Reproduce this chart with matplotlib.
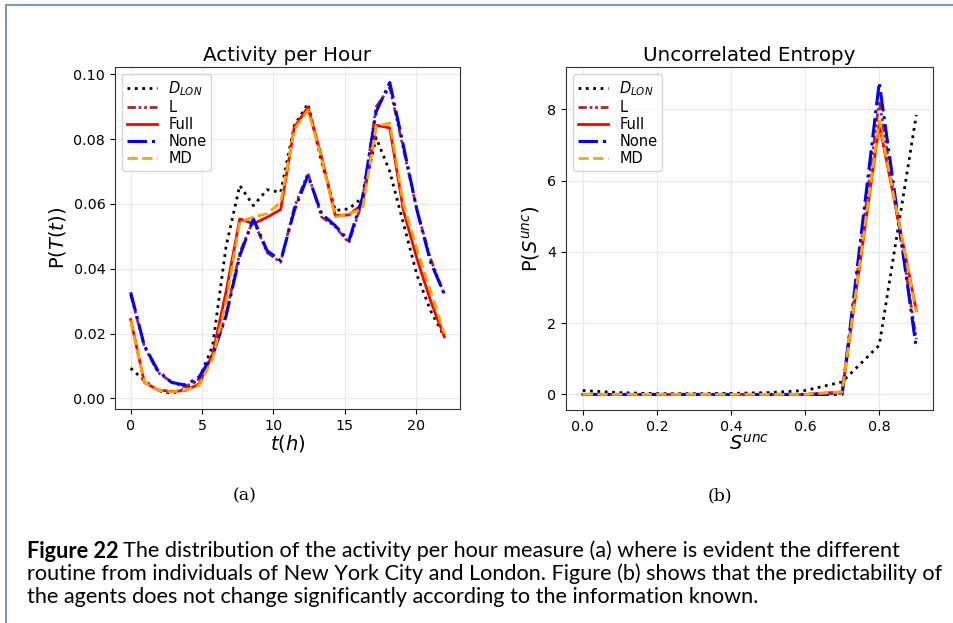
import numpy as np
import matplotlib
matplotlib.use("Agg")
import matplotlib.pyplot as plt
from matplotlib.lines import Line2D
from matplotlib.textpath import TextPath
from matplotlib.font_manager import FontProperties

plt.rcParams["font.family"] = ["DejaVu Sans"]

# ---------------- data ----------------
hours = np.linspace(0, 22, 24)

act_dlon = [0.0093, 0.0055, 0.0024, 0.0015, 0.0029, 0.0060, 0.0160, 0.0470,
            0.0657, 0.0595, 0.0644, 0.0636, 0.0842, 0.0910, 0.0730, 0.0580,
            0.0585, 0.0620, 0.0805, 0.0700, 0.0540, 0.0380, 0.0270, 0.0190]
act_l    = [0.0320, 0.0160, 0.0080, 0.0050, 0.0035, 0.0060, 0.0130, 0.0260,
            0.0450, 0.0550, 0.0450, 0.0420, 0.0590, 0.0695, 0.0560, 0.0530,
            0.0480, 0.0610, 0.0900, 0.0960, 0.0770, 0.0580, 0.0430, 0.0320]
act_full = [0.0243, 0.0049, 0.0026, 0.0021, 0.0024, 0.0044, 0.0135, 0.0330,
            0.0554, 0.0539, 0.0559, 0.0583, 0.0837, 0.0899, 0.0745, 0.0565,
            0.0566, 0.0600, 0.0843, 0.0835, 0.0580, 0.0430, 0.0300, 0.0190]
act_none = [0.0327, 0.0163, 0.0085, 0.0049, 0.0041, 0.0065, 0.0132, 0.0255,
            0.0440, 0.0554, 0.0456, 0.0425, 0.0580, 0.0688, 0.0570, 0.0533,
            0.0487, 0.0620, 0.0885, 0.0975, 0.0780, 0.0580, 0.0420, 0.0322]
act_md   = [0.0240, 0.0050, 0.0025, 0.0020, 0.0025, 0.0040, 0.0120, 0.0300,
            0.0545, 0.0560, 0.0570, 0.0605, 0.0830, 0.0890, 0.0740, 0.0560,
            0.0570, 0.0585, 0.0840, 0.0850, 0.0600, 0.0460, 0.0330, 0.0200]

s_unc = [0.0, 0.1, 0.2, 0.3, 0.4, 0.5, 0.6, 0.7, 0.8, 0.9]
ent_dlon = [0.11, 0.05, 0.02, 0.02, 0.03, 0.05, 0.11, 0.35, 1.38, 7.84]
ent_l    = [0.0, 0.0, 0.0, 0.0, 0.0, 0.0, 0.0, 0.03, 8.24, 1.55]
ent_full = [0.0, 0.0, 0.0, 0.0, 0.0, 0.0, 0.0, 0.07, 7.58, 2.35]
ent_none = [0.0, 0.0, 0.0, 0.0, 0.0, 0.0, 0.0, 0.0, 8.75, 1.29]
ent_md   = [0.0, 0.0, 0.0, 0.0, 0.0, 0.0, 0.0, 0.07, 7.67, 2.31]

labels = [r"$D_{LON}$", "L", "Full", "None", "MD"]
act_top = [0.00, 0.02, 0.04, 0.06, 0.08, 0.10]
ent_yticks = [0, 2, 4, 6, 8]
ent_xticks = [0.0, 0.2, 0.4, 0.6, 0.8]

caption_bold = "Figure 22"
caption_lines = [
    "The distribution of the activity per hour measure (a) where is evident the different",
    "routine from individuals of New York City and London. Figure (b) shows that the predictability of",
    "the agents does not change significantly according to the information known.",
]

# ---------------- styles ----------------
styles = [
    dict(color="black", linestyle=":", linewidth=2.0),
    dict(color="brown", linestyle=(0, (3, 1, 1, 1, 1, 1)), linewidth=2.0),
    dict(color="red", linestyle="-", linewidth=2.0),
    dict(color="blue", linestyle="-.", linewidth=2.2),
    dict(color="orange", linestyle="--", linewidth=2.0),
]

W, H = 954, 623
fig = plt.figure(figsize=(W / 100, H / 100), dpi=100)

def px_axes(l, t, r, b):
    return fig.add_axes([l / W, 1 - b / H, (r - l) / W, (b - t) / H])

ax1 = px_axes(115, 67, 460, 409)
ax2 = px_axes(566, 67, 933, 410)

for st, lab, ys in zip(styles, labels, [act_dlon, act_l, act_full, act_none, act_md]):
    ax1.plot(hours, ys, label=lab, **st)
for st, lab, ys in zip(styles, labels, [ent_dlon, ent_l, ent_full, ent_none, ent_md]):
    ax2.plot(s_unc, ys, label=lab, **st)

ax1.set_yticks(act_top)
ax1.set_yticklabels([f"{v:.2f}" for v in act_top])
ax1.set_xticks([0, 5, 10, 15, 20])
ax2.set_yticks(ent_yticks)
ax2.set_xticks(ent_xticks)
ax2.set_xticklabels([f"{v:.1f}" for v in ent_xticks])

ax1.set_title("Activity per Hour", fontsize=14.3, pad=4)
ax2.set_title("Uncorrelated Entropy", fontsize=14.3, pad=4)
ax1.set_xlabel(r"$t(h)$", fontsize=14, labelpad=0)
ax1.set_ylabel(r"P($T(t)$)", fontsize=14, labelpad=4)
ax2.set_xlabel(r"$S^{unc}$", fontsize=14, labelpad=0)
ax2.set_ylabel(r"P($S^{unc}$)", fontsize=14, labelpad=4)

for ax in (ax1, ax2):
    ax.grid(True, color="#e8e8e8", linewidth=0.8)
    ax.set_axisbelow(True)
    ax.tick_params(labelsize=10.3)
    for sp in ax.spines.values():
        sp.set_color("#333333")
    ax.legend(loc="upper left", fontsize=10.5, handlelength=2.0,
              borderpad=0.35, labelspacing=0.13, handletextpad=0.8)

# page frame
frame_col = "#8098b8"
fig.add_artist(Line2D([6 / W, 6 / W], [0, 1 - 5 / H], color=frame_col, lw=1.5))
fig.add_artist(Line2D([6 / W, 1], [1 - 5 / H, 1 - 5 / H], color=frame_col, lw=1.5))

# sub captions
fig.text(245 / W, 1 - 496 / H, "(a)", family="DejaVu Serif", fontsize=12.5,
         ha="center", va="center")
fig.text(720 / W, 1 - 496 / H, "(b)", family="DejaVu Serif", fontsize=12.5,
         ha="center", va="center")

# main caption: size the font so the longest line spans the reference width
cap_family = "Lato"
fp = FontProperties(family=cap_family, size=12)
w12_pt = TextPath((0, 0), caption_lines[1], prop=fp).get_extents().width
cap_fs = 12 * (913 * 72 / 100) / w12_pt
fpb = FontProperties(family=cap_family, size=cap_fs, weight="bold")
bold_w_px = TextPath((0, 0), caption_bold, prop=fpb).get_extents().width * 100 / 72

ys_px = [551, 574, 597]
fig.text(27 / W, 1 - ys_px[0] / H, caption_bold, fontsize=cap_fs,
         family=cap_family, fontweight="bold", ha="left", va="center")
fig.text((27 + bold_w_px + 7) / W, 1 - ys_px[0] / H, caption_lines[0],
         fontsize=cap_fs, family=cap_family, ha="left", va="center")
fig.text(27 / W, 1 - ys_px[1] / H, caption_lines[1],
         fontsize=cap_fs, family=cap_family, ha="left", va="center")
fig.text(27 / W, 1 - ys_px[2] / H, caption_lines[2],
         fontsize=cap_fs, family=cap_family, ha="left", va="center")

fig.savefig("out.png", dpi=100)
